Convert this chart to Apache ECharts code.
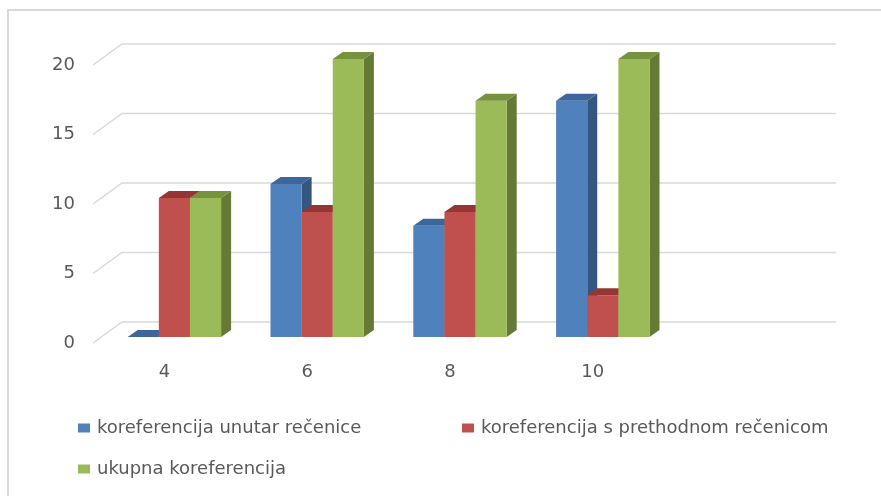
<!DOCTYPE html>
<html>
<head>
<meta charset="utf-8">
<script src="https://cdn.jsdelivr.net/npm/echarts@6/dist/echarts.min.js"></script>
<style>
  html, body { margin: 0; padding: 0; background: #fff; }
  #chart { width: 881px; height: 496px; }
</style>
</head>
<body>
<div id="chart"></div>
<script>
// podaci s grafikona
var categories = ['4', '6', '8', '10', ''];
var seriesNames = ['koreferencija unutar rečenice', 'koreferencija s prethodnom rečenicom', 'ukupna koreferencija'];
var unutar = [0, 11, 8, 17];
var prethodna = [10, 9, 9, 3];
var ukupna = [10, 20, 17, 20];
var yTicks = [0, 5, 10, 15, 20];

// boje: prednja strana, vrh, bok
var colors = [
    ['#4F81BD', '#3D679A', '#34567F'],
    ['#C0504D', '#943634', '#8A3331'],
    ['#9BBB59', '#77923C', '#647A35']
];

// pomaci za "3D" izgled
var depthX = 29, depthY = -21;   // stražnja ravnina
var faceX = 10, faceY = -6;      // prednja strana stupca
var sideX = 10, sideY = -7;      // dubina stupca
var barRatio = 0.218;

var chart = echarts.init(document.getElementById('chart'));

function toData(arr) {
    var out = [];
    for (var i = 0; i < arr.length; i++) {
        out.push([i, arr[i]]);
    }
    return out;
}

function barRenderer(k) {
    return function (params, api) {
        var cat = api.value(0);
        var val = api.value(1);
        var top = api.coord([cat, val]);
        var base = api.coord([cat, 0]);
        var bw = api.size([1, 0])[0] * barRatio;
        var x0 = base[0] + faceX + (k - 1.5) * bw;
        var yb = base[1] + faceY;
        var yt = top[1] + faceY;
        var c = colors[k];
        var children = [];
        if (yb - yt > 0) {
            children.push({
                type: 'polygon',
                shape: { points: [[x0 + bw, yt], [x0 + bw + sideX, yt + sideY], [x0 + bw + sideX, yb + sideY], [x0 + bw, yb]] },
                style: { fill: c[2] }
            });
            children.push({
                type: 'rect',
                shape: { x: x0, y: yt, width: bw, height: yb - yt },
                style: { fill: c[0] }
            });
        }
        children.push({
            type: 'polygon',
            shape: { points: [[x0, yt], [x0 + sideX, yt + sideY], [x0 + bw + sideX, yt + sideY], [x0 + bw, yt]] },
            style: { fill: c[1] }
        });
        return { type: 'group', children: children };
    };
}

function gridRenderer(params, api) {
    var cs = params.coordSys;
    var y = api.coord([0, api.value(0)])[1];
    return {
        type: 'polyline',
        shape: { points: [[cs.x, y], [cs.x + depthX, y + depthY], [cs.x + cs.width + depthX, y + depthY]] },
        style: { stroke: '#D9D9D9', lineWidth: 1.5, fill: null }
    };
}

var gridData = [];
for (var i = 0; i < yTicks.length; i++) {
    gridData.push([yTicks[i]]);
}

var textColor = '#595959';
var fontFamily = '"DejaVu Sans", sans-serif';

function legendItem(name, left, top) {
    return {
        data: [name],
        left: left,
        top: top,
        padding: 0,
        icon: 'rect',
        itemWidth: 12,
        itemHeight: 9,
        textStyle: { color: textColor, fontSize: 18, fontFamily: fontFamily, padding: [0, 0, 0, 2] }
    };
}

var option = {
    backgroundColor: '#fff',
    animation: false,
    textStyle: { fontFamily: fontFamily },
    graphic: [{
        type: 'polyline',
        shape: { points: [[8, 496], [8, 10], [881, 10]] },
        style: { stroke: '#D9D9D9', lineWidth: 2, fill: null }
    }],
    grid: {
        left: 93,
        right: 74,
        top: 65,
        bottom: 153,
        outerBoundsMode: 'none'
    },
    legend: [
        legendItem(seriesNames[0], 78, 419),
        legendItem(seriesNames[1], 462, 419),
        legendItem(seriesNames[2], 78, 460)
    ],
    xAxis: {
        type: 'category',
        data: categories,
        axisLine: { show: false },
        axisTick: { show: false },
        axisLabel: { color: textColor, fontSize: 18, margin: 20 }
    },
    yAxis: {
        type: 'value',
        min: 0,
        max: 20,
        interval: 5,
        axisLine: { show: false },
        axisTick: { show: false },
        splitLine: { show: false },
        axisLabel: { color: textColor, fontSize: 18, margin: 18 }
    },
    series: [{
        type: 'custom',
        name: 'mreza',
        renderItem: gridRenderer,
        data: gridData,
        encode: { y: 0 },
        silent: true,
        z: 1
    }, {
        type: 'custom',
        name: seriesNames[0],
        renderItem: barRenderer(0),
        itemStyle: { color: colors[0][0] },
        data: toData(unutar),
        encode: { x: 0, y: 1 },
        z: 2
    }, {
        type: 'custom',
        name: seriesNames[1],
        renderItem: barRenderer(1),
        itemStyle: { color: colors[1][0] },
        data: toData(prethodna),
        encode: { x: 0, y: 1 },
        z: 3
    }, {
        type: 'custom',
        name: seriesNames[2],
        renderItem: barRenderer(2),
        itemStyle: { color: colors[2][0] },
        data: toData(ukupna),
        encode: { x: 0, y: 1 },
        z: 4
    }]
};

chart.setOption(option);
</script>
</body>
</html>
